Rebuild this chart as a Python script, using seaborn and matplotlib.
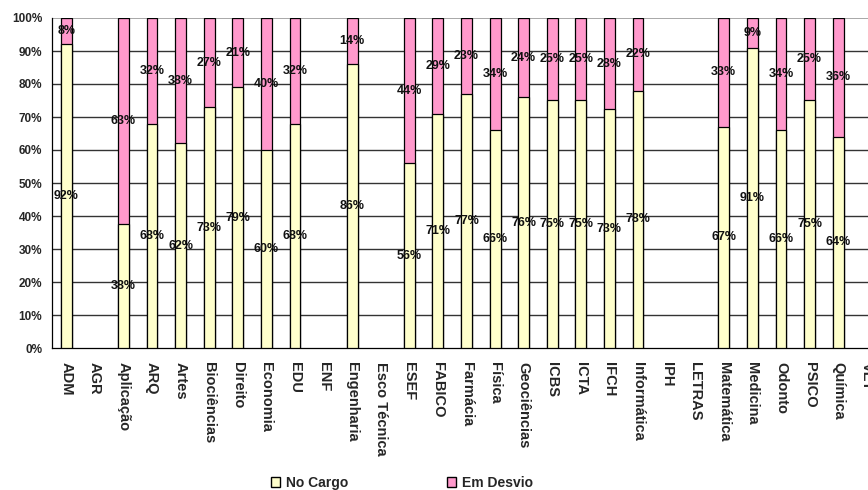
import numpy as np
import pandas as pd
import matplotlib
matplotlib.use("Agg")
import matplotlib.pyplot as plt
from matplotlib.patches import Patch
import seaborn as sns

# Units and their share of staff working in their own post vs. in deviation (%)
unidades = ["ADM", "AGR", "Aplicação", "ARQ", "Artes", "Biociências", "Direito",
            "Economia", "EDU", "ENF", "Engenharia", "Esco Técnica", "ESEF", "FABICO",
            "Farmácia", "Física", "Geociências", "ICBS", "ICTA", "IFCH", "Informática",
            "IPH", "LETRAS", "Matemática", "Medicina", "Odonto", "PSICO", "Química", "VET"]
no_cargo = [92, np.nan, 38, 68, 62, 73, 79, 60, 68, np.nan, 86, np.nan, 56, 71,
            77, 66, 76, 75, 75, 73, 78, np.nan, np.nan, 67, 91, 66, 75, 64, np.nan]
em_desvio = [8, np.nan, 63, 32, 38, 27, 21, 40, 32, np.nan, 14, np.nan, 44, 29,
             23, 34, 24, 25, 25, 28, 22, np.nan, np.nan, 33, 9, 34, 25, 36, np.nan]

COR_CARGO = "#FFFFCC"
COR_DESVIO = "#FF99CC"

df = pd.DataFrame({"unidade": unidades, "no_cargo": no_cargo, "em_desvio": em_desvio})
total = df["no_cargo"] + df["em_desvio"]
# 100% stacked: each bar is normalised to its own total (empty units stay empty)
df["base"] = df["no_cargo"] / total * 100
df["topo"] = total / total * 100

sns.set_style("white")
plt.rcParams["font.family"] = ["Liberation Sans", "DejaVu Sans"]
plt.rcParams["font.weight"] = "bold"

fig = plt.figure(figsize=(8.68, 4.90), dpi=100)
ax = fig.add_axes([52 / 868, 142 / 490, 829 / 868, 330 / 490])

largura = 0.38
sns.barplot(data=df, x="unidade", y="topo", order=unidades, color=COR_DESVIO,
            width=largura, edgecolor="black", linewidth=0.9, ax=ax, zorder=3,
            saturation=1)
sns.barplot(data=df, x="unidade", y="base", order=unidades, color=COR_CARGO,
            width=largura, edgecolor="black", linewidth=0.9, ax=ax, zorder=4,
            saturation=1)

# value labels centred on each segment
for i, (nc, ed, b) in enumerate(zip(df["no_cargo"], df["em_desvio"], df["base"])):
    if np.isnan(nc):
        continue
    ax.text(i, b / 2, f"{nc:.0f}%", ha="center", va="center", fontsize=9,
            fontweight="bold", color="#111111", zorder=6)
    ax.text(i, b + (100 - b) / 2, f"{ed:.0f}%", ha="center", va="center",
            fontsize=9, fontweight="bold", color="#111111", zorder=6)

ax.set_xlim(-0.5, len(unidades) - 0.5)
ax.set_ylim(0, 100)
ax.set_yticks(np.arange(0, 101, 10))
ax.set_yticklabels([f"{v}%" for v in range(0, 101, 10)], fontsize=8.5, fontweight="bold")
ax.set_xticks(range(len(unidades)))
ax.set_xticklabels(unidades, rotation=270, fontsize=10.5, fontweight="bold")
ax.set_xticks(np.arange(-0.5, len(unidades), 1), minor=True)
ax.tick_params(axis="x", which="major", length=0, pad=10)
ax.tick_params(axis="x", which="minor", length=4, width=0.9, color="black", direction="out")
ax.tick_params(axis="y", length=4, width=0.9, color="black", direction="out", pad=3)
ax.set_xlabel("")
ax.set_ylabel("")

for v in range(10, 100, 10):
    ax.axhline(v, color="#333333", linewidth=1.0, zorder=1)
ax.axhline(100, color="#999999", linewidth=1.2, zorder=1)

for s in ["top", "right"]:
    ax.spines[s].set_visible(False)
for s in ["left", "bottom"]:
    ax.spines[s].set_color("black")
    ax.spines[s].set_linewidth(0.9)

handles = [Patch(facecolor=COR_CARGO, edgecolor="black", label="No Cargo"),
           Patch(facecolor=COR_DESVIO, edgecolor="black", label="Em Desvio")]
fig.legend(handles=handles, loc="center", bbox_to_anchor=(402 / 868, 1 - 483 / 490),
           ncol=2, frameon=False, handlelength=0.65, handleheight=0.65,
           handletextpad=0.45, columnspacing=7.1, prop={"weight": "bold", "size": 10})

fig.savefig("out.png", dpi=100)
